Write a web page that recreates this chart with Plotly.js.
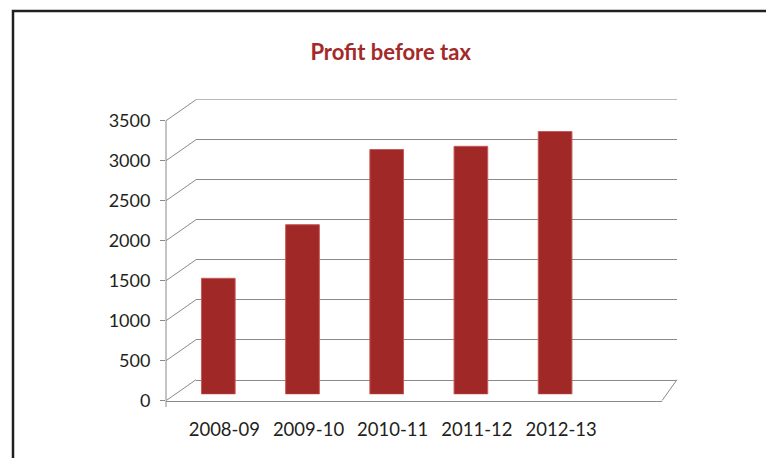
<!DOCTYPE html>
<html>
<head>
<meta charset="utf-8">
<script src="https://cdn.plot.ly/plotly-3.0.1.min.js"></script>
<style>html,body{margin:0;padding:0;background:#fff;}#chart{width:766px;height:458px;}</style>
</head>
<body>
<div id="chart"></div>
<script>
var categories = ['2008-09', '2009-10', '2010-11', '2011-12', '2012-13'];
var profitBeforeTax = [1450, 2120, 3060, 3100, 3285];
var tickValues = [0, 500, 1000, 1500, 2000, 2500, 3000, 3500];

var W = 766, H = 458;
function px(x) { return x / W; }
function py(y) { return 1 - y / H; }

var gridColor = '#8a8a8a';
var textColor = '#231f20';
var fontFamily = 'Lato, "Open Sans", sans-serif';
var yMax = tickValues[tickValues.length - 1];

var traces = [
  // back wall grid subplot (empty)
  {x: [0], y: [0], xaxis: 'x', yaxis: 'y', type: 'scatter', mode: 'markers',
   marker: {opacity: 0}, hoverinfo: 'skip', showlegend: false},
  // bars
  {x: categories, y: profitBeforeTax, xaxis: 'x2', yaxis: 'y2', type: 'bar',
   width: 0.4, marker: {color: '#a02826', line: {color: '#c75a5a', width: 1}},
   showlegend: false, hoverinfo: 'x+y'},
  // front axis subplot (empty)
  {x: [0], y: [0], xaxis: 'x3', yaxis: 'y3', type: 'scatter', mode: 'markers',
   marker: {opacity: 0}, hoverinfo: 'skip', showlegend: false}
];

var shapes = [];
// top back-wall gridline (range end)
shapes.push({type: 'line', xref: 'x domain', yref: 'y', x0: 0, x1: 1,
  y0: yMax, y1: yMax, line: {color: gridColor, width: 1}, layer: 'below'});
// front vertical axis line
shapes.push({type: 'line', xref: 'paper', yref: 'y3', x0: px(166), x1: px(166),
  y0: 0, y1: yMax, line: {color: gridColor, width: 1}});
// connectors from front axis to back wall
tickValues.forEach(function (v) {
  shapes.push({type: 'line', xref: 'paper', yref: 'y3',
    xsizemode: 'pixel', xanchor: px(166), x0: 0, x1: 30,
    ysizemode: 'pixel', yanchor: v, y0: 0, y1: 21,
    line: {color: gridColor, width: 1}});
});
// right floor diagonal
shapes.push({type: 'line', xref: 'paper', yref: 'y3',
  xsizemode: 'pixel', xanchor: px(662), x0: 0, x1: 15,
  ysizemode: 'pixel', yanchor: 0, y0: 0, y1: 21,
  line: {color: gridColor, width: 1}});
// small extension of the axis below the floor
shapes.push({type: 'line', xref: 'paper', yref: 'paper',
  x0: px(166), x1: px(166), y0: py(400.7), y1: py(407),
  line: {color: gridColor, width: 1}});
// frame
shapes.push({type: 'path', xref: 'paper', yref: 'paper',
  path: 'M ' + px(13) + ' ' + py(470) + ' L ' + px(13) + ' ' + py(11) + ' L ' + px(780) + ' ' + py(11),
  line: {color: textColor, width: 2.5}});

var layout = {
  width: W, height: H,
  margin: {l: 0, r: 0, t: 0, b: 0},
  paper_bgcolor: '#ffffff', plot_bgcolor: 'rgba(0,0,0,0)',
  showlegend: false,
  title: {text: 'Profit before tax', x: 0.51, xanchor: 'center', y: py(52), yanchor: 'middle',
          font: {family: fontFamily, size: 22, color: '#a3292a', weight: 'bold'}},
  font: {family: fontFamily, color: textColor},
  xaxis: {domain: [px(196), px(677)], range: [0, 1], visible: false, fixedrange: true},
  yaxis: {domain: [py(380), py(99.3)], range: [0, yMax], tickvals: tickValues,
          showgrid: true, gridcolor: gridColor, gridwidth: 1, zeroline: true,
          zerolinecolor: gridColor, zerolinewidth: 1, showticklabels: false,
          ticks: '', showline: false, anchor: 'x', fixedrange: true},
  xaxis2: {domain: [px(196), px(677)], type: 'category',
           range: [(196 - 218.3) / 84.2, (677 - 218.3) / 84.2],
           anchor: 'y2', showgrid: false, showline: false, zeroline: false, ticks: '',
           ticklabelstandoff: 22, ticklabelshift: 6,
           tickfont: {family: fontFamily, size: 18.5, color: textColor}, fixedrange: true},
  yaxis2: {domain: [py(394.3), py(394.3 - 280)], range: [0, yMax], anchor: 'x2',
           visible: false, fixedrange: true},
  xaxis3: {domain: [px(166), px(662)], range: [0, 1], anchor: 'y3',
           showline: true, linecolor: gridColor, linewidth: 1, showgrid: false,
           zeroline: false, ticks: '', showticklabels: false, fixedrange: true},
  yaxis3: {domain: [py(400.7), py(400.7 - 3800 * 0.08)], range: [0, 3800], anchor: 'x3',
           tickvals: tickValues, ticktext: tickValues.map(String),
           showline: false, showgrid: false,
           zeroline: false, ticks: 'outside', ticklen: 5, tickcolor: gridColor,
           ticklabelstandoff: 6,
           tickfont: {family: fontFamily, size: 18, color: textColor}, fixedrange: true},
  shapes: shapes
};

Plotly.newPlot('chart', traces, layout, {displayModeBar: false, staticPlot: true});
</script>
</body>
</html>
